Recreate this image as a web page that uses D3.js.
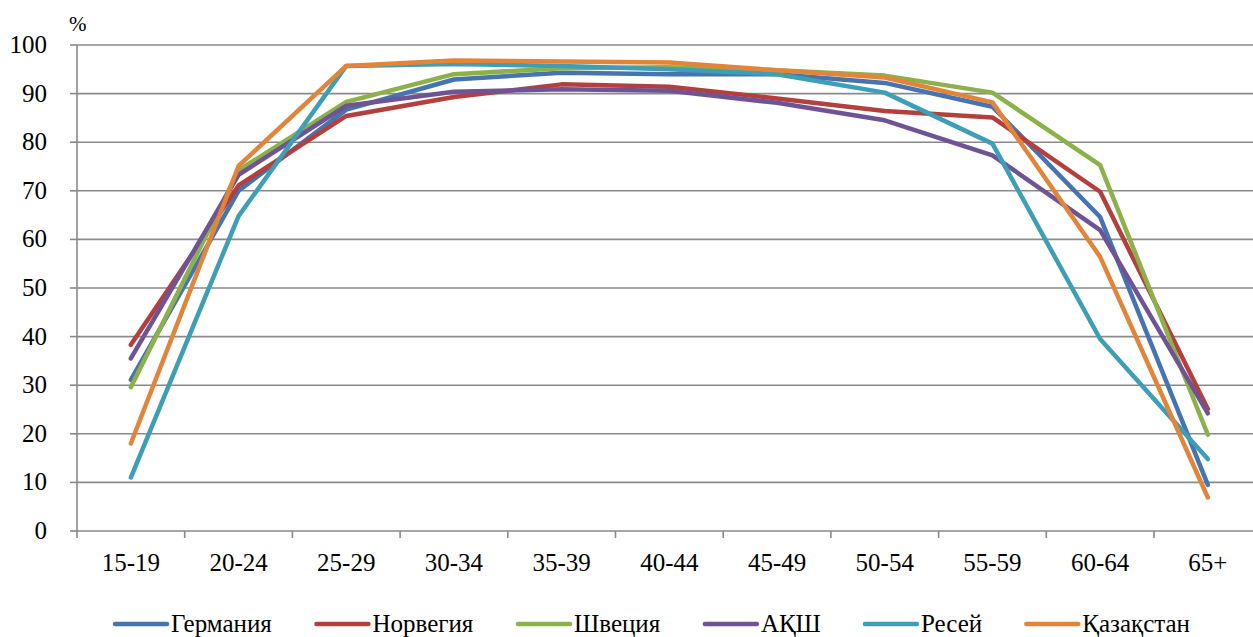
<!DOCTYPE html>
<html>
<head>
<meta charset="UTF-8">
<script src="https://d3js.org/d3.v7.min.js"></script>
</head>
<body style="margin:0;background:#fff">
<svg id="chart" width="1253" height="637"></svg>
<script>
const ageGroups = ["15-19", "20-24", "25-29", "30-34", "35-39", "40-44", "45-49", "50-54", "55-59", "60-64", "65+"];
const seriesNames = ["Германия", "Норвегия", "Швеция", "АҚШ", "Ресей", "Қазақстан"];
const germany    = [31.1, 70.0, 86.7, 92.9, 94.3, 94.0, 94.0, 92.2, 87.3, 64.6, 9.5];
const norway     = [38.3, 71.1, 85.4, 89.3, 91.9, 91.4, 89.0, 86.4, 85.1, 69.8, 25.1];
const sweden     = [29.6, 74.2, 88.3, 94.0, 95.2, 95.4, 94.8, 93.7, 90.2, 75.3, 19.8];
const usa        = [35.5, 73.3, 87.5, 90.4, 90.9, 90.6, 88.1, 84.5, 77.3, 61.9, 24.2];
const russia     = [11.0, 64.8, 95.7, 96.1, 95.7, 95.0, 94.0, 90.2, 79.7, 39.5, 14.8];
const kazakhstan = [18.0, 75.1, 95.7, 96.8, 96.6, 96.4, 94.8, 93.3, 88.2, 56.4, 6.9];
const yTicks = [0, 10, 20, 30, 40, 50, 60, 70, 80, 90, 100];
const colors = ["#4674B0", "#B3403D", "#8CB04A", "#6F5495", "#3E9EB5", "#E1853A"];

const allSeries = [germany, norway, sweden, usa, russia, kazakhstan];

const svg = d3.select("#chart");
const plotLeft = 77, plotTop = 45, plotBottom = 531;
const band = 107.7;

const x = d3.scaleBand()
    .domain(ageGroups)
    .range([plotLeft, plotLeft + band * ageGroups.length]);

const y = d3.scaleLinear()
    .domain([0, 100])
    .range([plotBottom, plotTop]);

// gridlines
svg.append("g")
    .selectAll("line")
    .data(yTicks.filter(d => d > 0))
    .join("line")
    .attr("x1", plotLeft).attr("x2", 1253)
    .attr("y1", d => y(d)).attr("y2", d => y(d))
    .attr("stroke", "#8a8a8a").attr("stroke-width", 1.6);

// axis lines and ticks drawn by hand from the scales
const axes = svg.append("g").attr("stroke", "#8a8a8a").attr("stroke-width", 1.6);
axes.append("line")
    .attr("x1", plotLeft).attr("x2", plotLeft)
    .attr("y1", y(100)).attr("y2", y(0));
axes.append("line")
    .attr("x1", plotLeft).attr("x2", 1253)
    .attr("y1", y(0)).attr("y2", y(0));
axes.selectAll(".ytick")
    .data(yTicks)
    .join("line")
    .attr("class", "ytick")
    .attr("x1", plotLeft - 7).attr("x2", plotLeft)
    .attr("y1", d => y(d)).attr("y2", d => y(d));
axes.selectAll(".xtick")
    .data(ageGroups)
    .join("line")
    .attr("class", "xtick")
    .attr("x1", d => x(d)).attr("x2", d => x(d))
    .attr("y1", y(0)).attr("y2", y(0) + 7);

// y tick labels
svg.selectAll(".ylabel")
    .data(yTicks)
    .join("text")
    .attr("class", "ylabel")
    .attr("x", plotLeft - 30)
    .attr("y", d => y(d) + 8)
    .attr("text-anchor", "end")
    .style("font-family", "'Liberation Serif'")
    .style("font-size", "25px")
    .text(d => d);

// x tick labels
svg.selectAll(".xlabel")
    .data(ageGroups)
    .join("text")
    .attr("class", "xlabel")
    .attr("x", d => x(d) + x.bandwidth() / 2)
    .attr("y", y(0) + 40)
    .attr("text-anchor", "middle")
    .style("font-family", "'Liberation Serif'")
    .style("font-size", "25px")
    .text(d => d);

// unit label
svg.append("text")
    .attr("x", 69).attr("y", 31)
    .style("font-family", "'Liberation Serif'")
    .style("font-size", "21px")
    .text("%");

// lines
const line = d3.line()
    .x((d, i) => x(ageGroups[i]) + x.bandwidth() / 2)
    .y(d => y(d));

svg.append("g")
    .selectAll("path")
    .data(allSeries)
    .join("path")
    .attr("d", line)
    .attr("fill", "none")
    .attr("stroke", (d, i) => colors[i])
    .attr("stroke-width", 4.5)
    .attr("stroke-linecap", "round")
    .attr("stroke-linejoin", "round");

// legend
const legend = svg.append("g");
const items = legend.selectAll("g")
    .data(seriesNames)
    .join("g");
items.append("line")
    .attr("x1", 0).attr("x2", 52)
    .attr("y1", 0).attr("y2", 0)
    .attr("stroke", (d, i) => colors[i])
    .attr("stroke-width", 4.5)
    .attr("stroke-linecap", "round");
items.append("text")
    .attr("x", 56).attr("y", 8)
    .style("font-family", "'Liberation Serif'")
    .style("font-size", "25px")
    .text(d => d);

// spread the legend between x=115 and x=1190
const widths = [];
items.each(function () { widths.push(this.getBBox().width); });
const gap = (1190 - 115 - d3.sum(widths)) / (widths.length - 1);
let pos = 115;
items.each(function (d, i) {
    d3.select(this).attr("transform", "translate(" + pos + ",624)");
    pos += widths[i] + gap;
});
</script>
</body>
</html>
